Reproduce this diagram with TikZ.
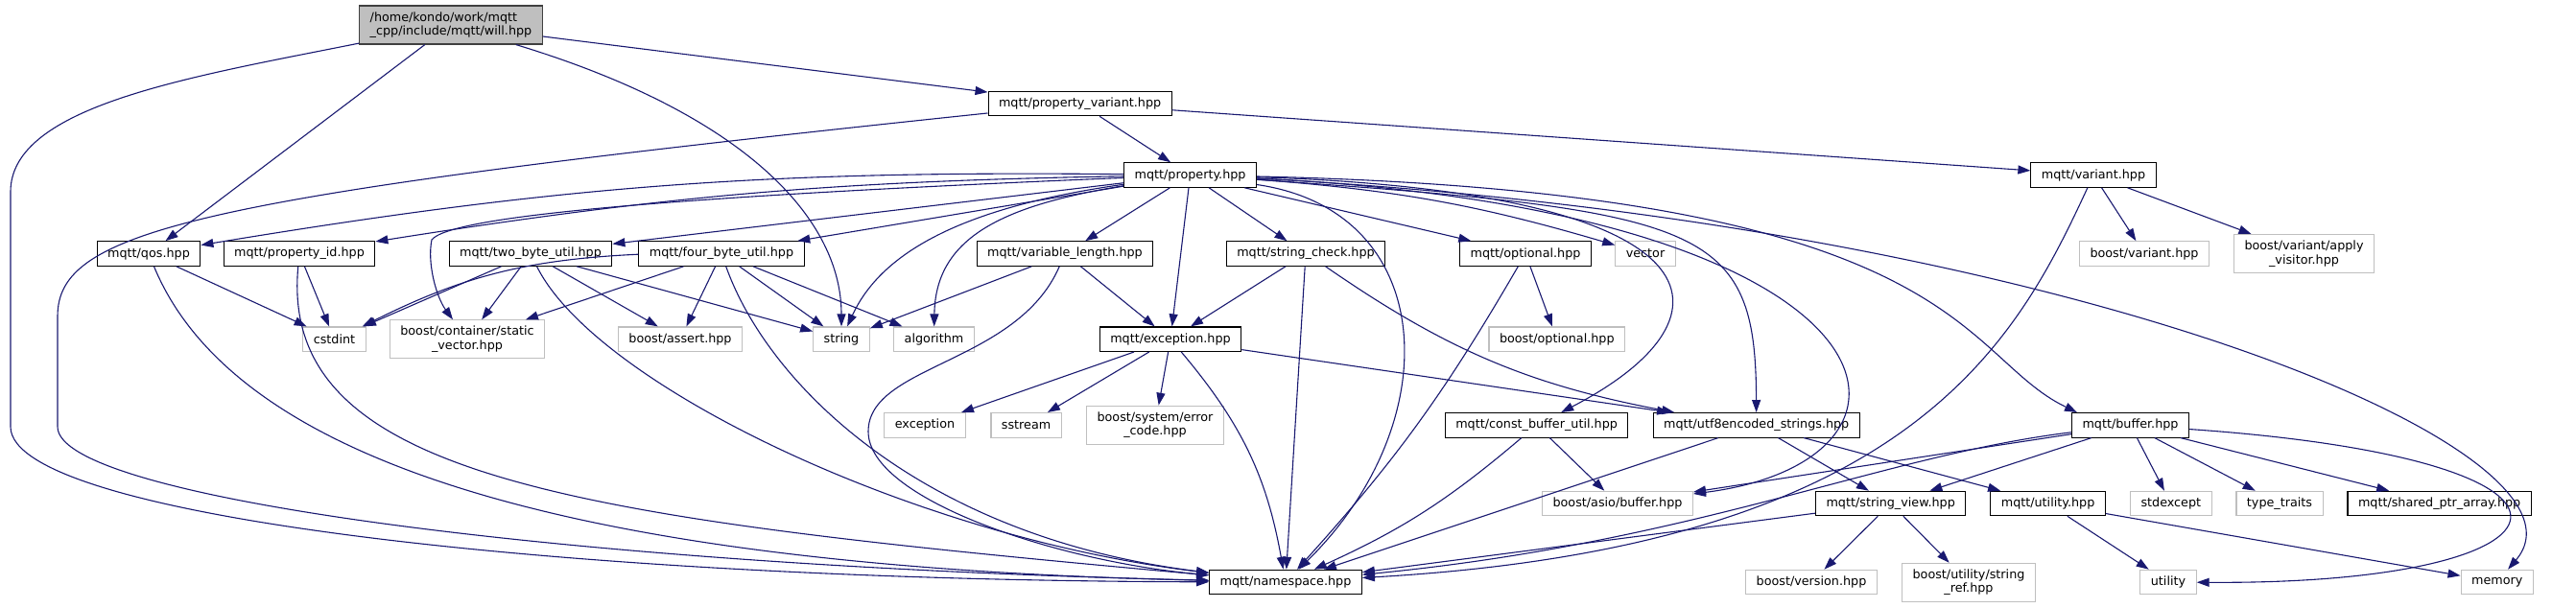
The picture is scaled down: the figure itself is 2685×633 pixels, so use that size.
\documentclass[tikz,border=0pt]{standalone}
\usepackage{fontspec}
\setmainfont{DejaVu Sans}
\usetikzlibrary{arrows.meta}
\definecolor{edgeblue}{HTML}{191970}

\begin{document}
\begin{tikzpicture}[x=1pt,y=1pt,
  file/.style={draw=black,line width=1.1pt,fill=white,inner xsep=11pt,inner ysep=4pt,
    minimum height=25.5pt,font=\fontsize{12.75}{14.5}\selectfont},
  sys/.style={file,draw=black!25},
  two/.style={align=center,minimum height=40pt},
  top/.style={file,fill=black!25,draw=black!75,align=left,minimum height=40pt},
  dep/.style={draw=edgeblue,line width=1.1pt,-{Triangle[length=13pt,width=9pt]}}]
  \useasboundingbox (0,0) rectangle (2685,-633);
  % files
  \node[top] (will) at (470,-26) {/home/kondo/work/mqtt\\\_cpp/include/mqtt/will.hpp};
  \node[file] (pvariant) at (1125.6,-108) {mqtt/property\_variant.hpp};
  \node[file] (property) at (1240.6,-182.5) {mqtt/property.hpp};
  \node[file] (variant) at (2182,-182.5) {mqtt/variant.hpp};
  \node[file] (qos) at (155,-264.5) {mqtt/qos.hpp};
  \node[file] (propid) at (312,-264.5) {mqtt/property\_id.hpp};
  \node[file] (twobyte) at (553,-264.5) {mqtt/two\_byte\_util.hpp};
  \node[file] (fourbyte) at (752,-264.5) {mqtt/four\_byte\_util.hpp};
  \node[file] (varlen) at (1110,-264.5) {mqtt/variable\_length.hpp};
  \node[file] (strcheck) at (1361,-264.5) {mqtt/string\_check.hpp};
  \node[file] (optional) at (1590,-264.5) {mqtt/optional.hpp};
  \node[sys] (vector) at (1715,-264.5) {vector};
  \node[sys] (bvariant) at (2235,-264.5) {boost/variant.hpp};
  \node[sys,two] (bvisitor) at (2401.5,-264.5) {boost/variant/apply\\\_visitor.hpp};
  \node[sys] (cstdint) at (348.5,-353.7) {cstdint};
  \node[sys,two] (staticvec) at (487,-353.8) {boost/container/static\\\_vector.hpp};
  \node[sys] (bassert) at (709,-353.7) {boost/assert.hpp};
  \node[sys] (string) at (877,-353.7) {string};
  \node[sys] (algorithm) at (973.5,-353.7) {algorithm};
  \node[file] (exceptionh) at (1220,-353.7) {mqtt/exception.hpp};
  \node[sys] (boptional) at (1622.8,-353.7) {boost/optional.hpp};
  \node[sys] (exception) at (964,-443.3) {exception};
  \node[sys] (sstream) at (1069.6,-443.3) {sstream};
  \node[sys,two] (errorcode) at (1204,-443.2) {boost/system/error\\\_code.hpp};
  \node[file] (constbuf) at (1601.6,-443.3) {mqtt/const\_buffer\_util.hpp};
  \node[file] (utf8) at (1830.7,-443.3) {mqtt/utf8encoded\_strings.hpp};
  \node[file] (buffer) at (2220.5,-443.3) {mqtt/buffer.hpp};
  \node[sys] (asio) at (1686,-525) {boost/asio/buffer.hpp};
  \node[file] (strview) at (1970.7,-525) {mqtt/string\_view.hpp};
  \node[file] (utilityh) at (2134.6,-525) {mqtt/utility.hpp};
  \node[sys] (stdexcept) at (2262.8,-525) {stdexcept};
  \node[sys] (typetraits) at (2376,-525) {type\_traits};
  \node[file] (sharedptr) at (2542.6,-525) {mqtt/shared\_ptr\_array.hpp};
  \node[file] (nsp) at (1340,-607) {mqtt/namespace.hpp};
  \node[sys] (bversion) at (1888,-607) {boost/version.hpp};
  \node[sys,two] (stringref) at (2052,-607.3) {boost/utility/string\\\_ref.hpp};
  \node[sys] (utility) at (2260,-607) {utility};
  \node[sys] (memory) at (2602.7,-607) {memory};
  % bends of the long edges
  \coordinate (wl1) at (11,-200);
  \coordinate (wl2) at (11,-445);
  \coordinate (pl1) at (60,-330);
  \coordinate (pl2) at (60,-445);
  \coordinate (vl1) at (905,-450);
  \coordinate (sv1) at (450,-250);
  % will.hpp
  \draw[dep] (will) -- (pvariant);
  \draw[dep] (will) -- (qos);
  \draw[dep] (will) .. controls (780,-120) and (877,-230) .. (string);
  \draw[dep] (will) .. controls (200,-80) and (11,-110) .. (wl1) -- (wl2)
     .. controls (11,-540) and (600,-605) .. (nsp);
  % property_variant.hpp
  \draw[dep] (pvariant) -- (property);
  \draw[dep] (pvariant) -- (variant);
  \draw[dep] (pvariant) .. controls (200,-205) and (60,-240) .. (pl1) -- (pl2)
     .. controls (60,-520) and (600,-590) .. (nsp);
  % property.hpp
  \draw[dep] (property) to[bend right=5] (qos);
  \draw[dep] (property) to[bend right=4] (propid);
  \draw[dep] (property) .. controls (700,-205) and (470,-225) .. (sv1)
     .. controls (445,-275) and (455,-310) .. (staticvec);
  \draw[dep] (property) -- (twobyte);
  \draw[dep] (property) -- (fourbyte);
  \draw[dep] (property) .. controls (1010,-215) and (920,-260) .. (string);
  \draw[dep] (property) .. controls (1040,-215) and (975,-250) .. (algorithm);
  \draw[dep] (property) -- (varlen);
  \draw[dep] (property) -- (exceptionh);
  \draw[dep] (property) -- (strcheck);
  \draw[dep] (property) -- (optional);
  \draw[dep] (property) to[bend left=6] (vector);
  \draw[dep] (property) .. controls (1500,-220) and (1510,-440) .. (nsp);
  \draw[dep] (property) .. controls (1800,-200) and (1820,-330) .. (constbuf);
  \draw[dep] (property) .. controls (1780,-220) and (1830,-235) .. (utf8);
  \draw[dep] (property) .. controls (2000,-220) and (2040,-480) .. (asio);
  \draw[dep] (property) .. controls (2050,-200) and (2040,-370) .. ([xshift=6pt]buffer.north west);
  \draw[dep] (property) .. controls (2150,-230) and (2720,-470) .. (memory);
  % variant.hpp
  \draw[dep] (variant) -- (bvariant);
  \draw[dep] (variant) -- (bvisitor);
  \draw[dep] (variant) .. controls (2100,-360) and (1990,-570) .. (nsp);
  % qos.hpp, property_id.hpp
  \draw[dep] (qos) -- (cstdint);
  \draw[dep] (qos) .. controls (240,-470) and (560,-590) .. (nsp);
  \draw[dep] (propid) -- (cstdint);
  \draw[dep] (propid) .. controls (290,-500) and (600,-540) .. (nsp);
  % two_byte_util.hpp
  \draw[dep] (twobyte) -- (cstdint);
  \draw[dep] (twobyte) -- (staticvec);
  \draw[dep] (twobyte) -- (bassert);
  \draw[dep] (twobyte) -- (string);
  \draw[dep] (twobyte) .. controls (620,-400) and (950,-560) .. (nsp);
  % four_byte_util.hpp
  \draw[dep] (fourbyte) to[bend right=12] (cstdint);
  \draw[dep] (fourbyte) -- (staticvec);
  \draw[dep] (fourbyte) -- (bassert);
  \draw[dep] (fourbyte) -- (string);
  \draw[dep] (fourbyte) -- (algorithm);
  \draw[dep] (fourbyte) .. controls (800,-400) and (960,-560) .. (nsp);
  % variable_length.hpp
  \draw[dep] (varlen) -- (string);
  \draw[dep] (varlen) -- (exceptionh);
  \draw[dep] (varlen) .. controls (1060,-380) and (905,-380) .. (vl1)
     .. controls (905,-520) and (1100,-585) .. (nsp);
  % string_check.hpp, optional.hpp
  \draw[dep] (strcheck) -- (exceptionh);
  \draw[dep] (strcheck) to[bend right=12] (utf8);
  \draw[dep] (strcheck) -- (nsp);
  \draw[dep] (optional) -- (boptional);
  \draw[dep] (optional) to[bend left=6] (nsp);
  % exception.hpp
  \draw[dep] (exceptionh) -- (exception);
  \draw[dep] (exceptionh) -- (sstream);
  \draw[dep] (exceptionh) -- (errorcode);
  \draw[dep] (exceptionh) -- (utf8);
  \draw[dep] (exceptionh) to[bend left=15] (nsp);
  % const_buffer_util.hpp, utf8encoded_strings.hpp
  \draw[dep] (constbuf) -- (asio);
  \draw[dep] (constbuf) to[bend left=8] (nsp);
  \draw[dep] (utf8) -- (nsp);
  \draw[dep] (utf8) -- (strview);
  \draw[dep] (utf8) -- (utilityh);
  % buffer.hpp
  \draw[dep] (buffer) -- (asio);
  \draw[dep] (buffer) .. controls (1960,-475) and (1770,-565) .. (nsp);
  \draw[dep] (buffer) -- (strview);
  \draw[dep] (buffer) -- (stdexcept);
  \draw[dep] (buffer) -- (typetraits);
  \draw[dep] (buffer) -- (sharedptr);
  \draw[dep] (buffer) .. controls (2750,-480) and (2700,-610) .. (utility);
  % string_view.hpp, utility.hpp
  \draw[dep] (strview) -- (nsp);
  \draw[dep] (strview) -- (bversion);
  \draw[dep] (strview) -- (stringref);
  \draw[dep] (utilityh) -- (utility);
  \draw[dep] (utilityh) -- (memory);
\end{tikzpicture}
\end{document}
